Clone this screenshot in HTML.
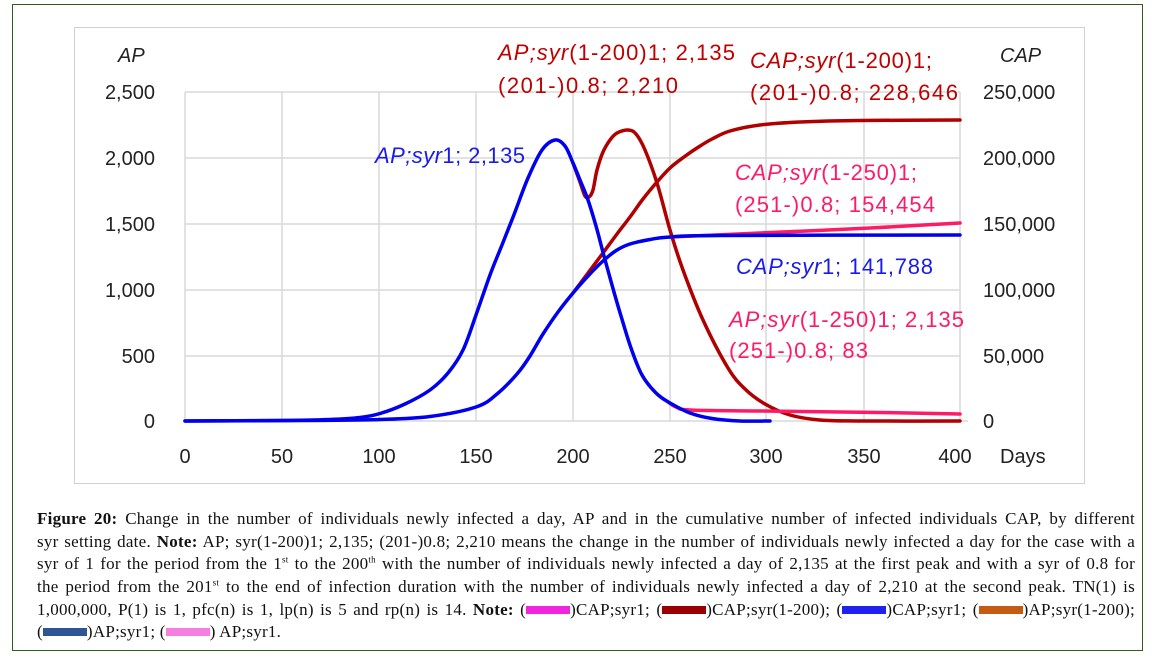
<!DOCTYPE html>
<html><head><meta charset="utf-8">
<style>
body{margin:0;background:#fff;width:1153px;height:659px;overflow:hidden;position:relative}
.frame{position:absolute;left:12px;top:4px;width:1131px;height:647px;border:1.5px solid #2e5e1e;box-sizing:border-box}
.box{position:absolute;left:74px;top:27px;width:1011px;height:457px;border:1.5px solid #d0d0d0;box-sizing:border-box}
svg{position:absolute;left:0;top:0}
.cap{position:absolute;left:37px;width:1098px;font-family:"Liberation Serif",serif;font-size:17px;letter-spacing:0.25px;color:#111;line-height:22.7px;top:508px}
.cap div{text-align:justify;text-align-last:justify;white-space:nowrap;height:22.7px}
.cap div.last{text-align-last:left}
.sw{display:inline-block;width:44px;height:8px;vertical-align:1px}
sup{font-size:9px;line-height:0}
</style></head><body>
<div class="frame"></div>
<div class="box"></div>
<svg width="1153" height="659" font-family="Liberation Sans, sans-serif">
<g stroke="#d9d9d9" stroke-width="1.5" fill="none">
<path d="M185 92V421M282 92V421M379 92V421M476 92V421M573 92V421M670 92V421M766 92V421M864 92V421M960 92V421"/>
<path d="M185 92H960M185 158H960M185 224H960M185 290H960M185 356H960M185 421H968"/>
</g>
<g font-size="20" fill="#222">
<g text-anchor="end"><text x="155" y="99">2,500</text><text x="155" y="165">2,000</text><text x="155" y="231">1,500</text><text x="155" y="297">1,000</text><text x="155" y="363">500</text><text x="155" y="428">0</text></g>
<text x="983" y="99">250,000</text><text x="983" y="165">200,000</text><text x="983" y="231">150,000</text><text x="983" y="297">100,000</text><text x="983" y="363">50,000</text><text x="983" y="428">0</text>
<g text-anchor="middle"><text x="185" y="463">0</text><text x="282" y="463">50</text><text x="379" y="463">100</text><text x="476" y="463">150</text><text x="573" y="463">200</text><text x="670" y="463">250</text><text x="766" y="463">300</text><text x="864" y="463">350</text><text x="955" y="463">400</text></g>
<text x="1000" y="463">Days</text>
<text x="118" y="62" font-style="italic">AP</text>
<text x="1000" y="62" font-style="italic">CAP</text>
</g>
<g fill="none" stroke-width="3.5" stroke-linejoin="round" stroke-linecap="round">
<path id="redAP" stroke="#b00000"/>
<path id="redCAP" stroke="#b00000"/>
<path id="pinkCAP" stroke="#ff1a66"/>
<path id="pinkAP" stroke="#ff1a66"/>
<path id="blueAP" stroke="#0000ee"/>
<path id="blueCAP" stroke="#0000ee"/>
</g>
<g font-size="22">
<text x="375" y="163" fill="#1a1aee" textLength="150"><tspan font-style="italic">AP;syr</tspan>1; 2,135</text>
<text x="498" y="60" fill="#c00000" textLength="237"><tspan font-style="italic">AP;syr</tspan>(1-200)1; 2,135</text>
<text x="498" y="93" fill="#c00000" textLength="180">(201-)0.8;  2,210</text>
<text x="750" y="68" fill="#c00000" textLength="182"><tspan font-style="italic">CAP;syr</tspan>(1-200)1;</text>
<text x="750" y="100" fill="#c00000" textLength="208">(201-)0.8; 228,646</text>
<text x="735" y="180" fill="#ff1a66" textLength="182"><tspan font-style="italic">CAP;syr</tspan>(1-250)1;</text>
<text x="735" y="212" fill="#ff1a66" textLength="200">(251-)0.8; 154,454</text>
<text x="736" y="274" fill="#1a1aee" textLength="197"><tspan font-style="italic">CAP;syr</tspan>1; 141,788</text>
<text x="729" y="327" fill="#ff1a66" textLength="235"><tspan font-style="italic">AP;syr</tspan>(1-250)1; 2,135</text>
<text x="729" y="358" fill="#ff1a66" textLength="139">(251-)0.8; 83</text>
</g>
</svg>
<div class="cap">
<div><b>Figure 20:</b> Change in the number of individuals newly infected a day, AP and in the cumulative number of infected individuals CAP, by different</div>
<div>syr setting date. <b>Note:</b> AP; syr(1-200)1; 2,135; (201-)0.8; 2,210 means the change in the number of individuals newly infected a day for the case with a</div>
<div>syr of 1 for the period from the 1<sup>st</sup> to the 200<sup>th</sup> with the number of individuals newly infected a day of 2,135 at the first peak and with a syr of 0.8 for</div>
<div>the period from the 201<sup>st</sup> to the end of infection duration with the number of individuals newly infected a day of 2,210 at the second peak. TN(1) is</div>
<div>1,000,000, P(1) is 1, pfc(n) is 1, lp(n) is 5 and rp(n) is 14. <b>Note:</b> (<span class="sw" style="background:#f025e0"></span>)CAP;syr1; (<span class="sw" style="background:#9a0000"></span>)CAP;syr(1-200); (<span class="sw" style="background:#2020f0"></span>)CAP;syr1; (<span class="sw" style="background:#c55a11"></span>)AP;syr(1-200);</div>
<div class="last">(<span class="sw" style="background:#2f5597"></span>)AP;syr1; (<span class="sw" style="background:#f47fe0"></span>) AP;syr1.</div>
</div>
<script>
function cr(p){var d="M"+p[0][0]+" "+p[0][1];for(var i=0;i<p.length-1;i++){var a=p[i-1]||p[i],b=p[i],c=p[i+1],e=p[i+2]||c;
d+=" C"+(b[0]+(c[0]-a[0])/6).toFixed(1)+" "+(b[1]+(c[1]-a[1])/6).toFixed(1)+" "+(c[0]-(e[0]-b[0])/6).toFixed(1)+" "+(c[1]-(e[1]-b[1])/6).toFixed(1)+" "+c[0]+" "+c[1];}return d;}
function s(id,p){document.getElementById(id).setAttribute("d",cr(p));}
s("blueAP",[[185,421],[280,420.5],[330,419.5],[360,417.5],[380,413.5],[405,404],[430,390],[448,373],[463,350],[476,315],[490,275],[502,245],[515,212],[528,178],[542,150],[555,140],[565,146],[573,163],[580,180],[588,200],[596,226],[604,256],[612,285],[621,316],[631,348],[642,375],[656,393],[670,403],[690,413],[712,418.5],[740,421],[770,421]]);
s("redAP",[[573,163],[580,182],[585,196],[589,197],[593,190],[597,170],[603,152],[610,140],[617,133],[628,130],[636,134],[645,150],[657,183],[670,230],[683,270],[703,320],[728,368],[745,389],[765,404],[790,415],[820,420],[860,421],[960,421]]);
s("blueCAP",[[185,421],[300,420.5],[380,419.5],[430,416.5],[476,407],[497,394],[517,374],[530,356],[543,334],[558,312],[573,293],[588,276],[603,261],[617,250],[630,244],[650,239.5],[670,237],[720,235.5],[960,235]]);
s("redCAP",[[573,293],[588,273],[603,253],[617,234],[630,217],[643,199],[657,182],[670,168],[684,157],[697,148],[712,139],[730,131],[760,125],[800,122],[860,120.5],[960,120]]);
s("pinkCAP",[[670,237],[760,233],[870,228],[960,223]]);
s("pinkAP",[[668,402],[676,407],[690,410],[760,411],[880,412.5],[960,414]]);
</script>
</body></html>
